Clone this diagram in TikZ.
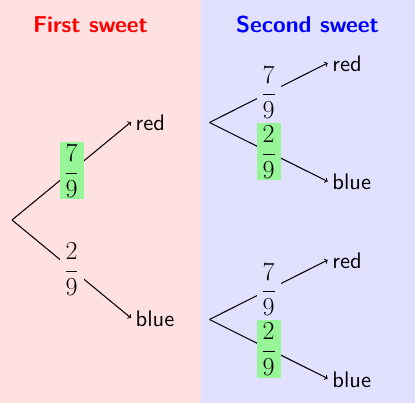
\RequirePackage{fix-cm}
\documentclass[tikz,border=0pt]{standalone}
\usepackage{graphicx}
\definecolor{bgred}{RGB}{255,225,225}
\definecolor{bgblue}{RGB}{225,225,255}
\definecolor{hl}{RGB}{150,245,150}
\newcommand{\lbltext}[1]{\scalebox{2.25}{#1}}
\begin{document}
\begin{tikzpicture}[x=1pt,y=-1pt,
  edge/.style={draw=black,line width=1.05pt,->},
  frac/.style={inner sep=0pt,minimum width=24pt,minimum height=57pt,font=\fontsize{26}{30}\selectfont},
  fracR/.style={frac,fill=bgred},
  fracB/.style={frac,fill=bgblue},
  fracG/.style={frac,fill=hl},
  lbl/.style={font=\sffamily\fontsize{10}{12}\selectfont,anchor=west,inner xsep=4.5pt,inner ysep=3pt,text height=17pt,text depth=0pt},
  ttl/.style={font=\sffamily\bfseries\fontsize{23}{28}\selectfont,anchor=base,inner sep=0pt}
]
\path[use as bounding box] (0,0) rectangle (415,403);
\fill[bgred] (0,0) rectangle (201,403);
\fill[bgblue] (201,0) rectangle (415,403);
\node[ttl,text=red] (t1) at (90.5,33) {First sweet};
\node[ttl,text=blue] (t2) at (307.5,33) {Second sweet};
% first sweet
\coordinate (r1) at (12,220);
\node[lbl] (r1red) at (131,122) {\lbltext{red}};
\node[lbl] (r1blue) at (131,318) {\lbltext{blue}};
\draw[edge] (r1) -- (r1red.west) node[midway,fracG] (f1a) {$\displaystyle\frac{7}{9}$};
\draw[edge] (r1) -- (r1blue.west) node[midway,fracR] (f1b) {$\displaystyle\frac{2}{9}$};
% second sweet, upper
\coordinate (r2) at (209.5,122.5);
\node[lbl] (r2red) at (327.7,63) {\lbltext{red}};
\node[lbl] (r2blue) at (327.7,181.5) {\lbltext{blue}};
\draw[edge] (r2) -- (r2red.west) node[midway,fracB] (f2a) {$\displaystyle\frac{7}{9}$};
\draw[edge] (r2) -- (r2blue.west) node[midway,fracG] (f2b) {$\displaystyle\frac{2}{9}$};
% second sweet, lower
\coordinate (r3) at (209.5,319.5);
\node[lbl] (r3red) at (327.7,260) {\lbltext{red}};
\node[lbl] (r3blue) at (327.7,378.5) {\lbltext{blue}};
\draw[edge] (r3) -- (r3red.west) node[midway,fracB] (f3a) {$\displaystyle\frac{7}{9}$};
\draw[edge] (r3) -- (r3blue.west) node[midway,fracG] (f3b) {$\displaystyle\frac{2}{9}$};
\end{tikzpicture}
\end{document}
